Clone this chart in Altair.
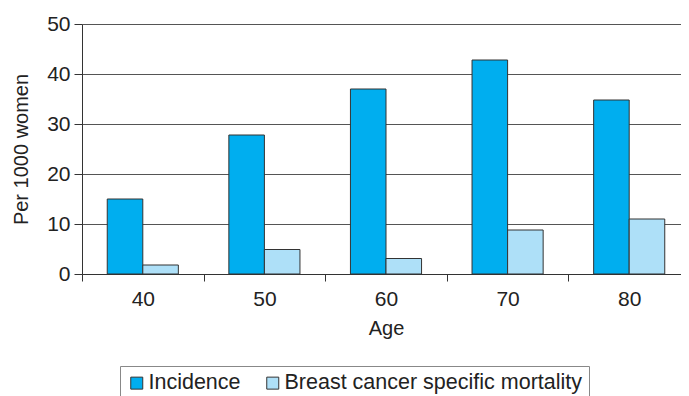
import altair as alt
import pandas as pd

ages = ["40", "50", "60", "70", "80"]
series_names = ["Incidence", "Breast cancer specific mortality"]
incidence = [15.0, 27.8, 37.0, 42.8, 34.8]
mortality = [1.8, 4.9, 3.1, 8.8, 11.0]
colors = ["#00AEEF", "#AEE0F8"]

rows = []
for a, v in zip(ages, incidence):
    rows.append({"Age": a, "Series": series_names[0], "Value": v})
for a, v in zip(ages, mortality):
    rows.append({"Age": a, "Series": series_names[1], "Value": v})
df = pd.DataFrame(rows)

FONT = "Liberation Sans"

chart = alt.Chart(df).mark_bar(stroke="#333333", strokeWidth=1).encode(
    x=alt.X("Age:N", sort=ages,
            scale=alt.Scale(paddingInner=0, paddingOuter=0, range=[0, 608]),
            axis=alt.Axis(title="Age", labelAngle=0, tickBand="extent",
                          domainColor="#333333", tickColor="#333333", tickSize=7,
                          labelFontSize=21, labelPadding=7, labelColor="#222222",
                          titleFontSize=20, titleFontWeight="normal", titleColor="#222222",
                          titlePadding=9, grid=False, titleX=304)),
    xOffset=alt.XOffset("Series:N", sort=series_names,
                        scale=alt.Scale(paddingOuter=0.71, paddingInner=0)),
    y=alt.Y("Value:Q",
            scale=alt.Scale(domain=[0, 50], nice=False),
            axis=alt.Axis(title="Per 1000 women", values=[0, 10, 20, 30, 40, 50],
                          domainColor="#333333", tickColor="#333333", tickSize=8,
                          gridColor="#555555", gridWidth=1,
                          labelFontSize=21, labelPadding=4, labelColor="#222222",
                          titleFontSize=20, titleFontWeight="normal", titleColor="#222222",
                          titlePadding=15)),
    color=alt.Color("Series:N", sort=series_names,
                    scale=alt.Scale(domain=series_names, range=colors),
                    legend=alt.Legend(title=None, orient="none", legendX=38, legendY=342,
                                      direction="horizontal", symbolType="square",
                                      symbolSize=144, symbolStrokeColor="#333333",
                                      symbolStrokeWidth=1, labelFontSize=21.5,
                                      labelColor="#222222", labelOffset=1,
                                      labelLimit=0,
                                      columnPadding=21, padding=6,
                                      strokeColor="#888888")),
).properties(
    width=599, height=250,
    autosize=alt.AutoSizeParams(type="none"),
    padding={"left": 74, "top": 16, "right": 0, "bottom": 122},
).configure(
    font=FONT,
).configure_view(
    stroke=None,
)

chart.save("out.html", embed_options={"renderer": "svg", "actions": False})
